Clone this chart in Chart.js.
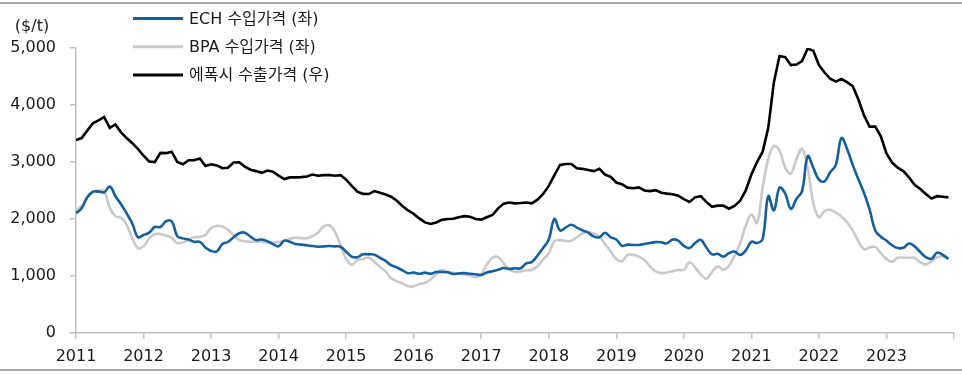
<!DOCTYPE html>
<html lang="ko">
<head>
<meta charset="utf-8">
<script src="https://cdn.jsdelivr.net/npm/chart.js@4.4.1/dist/chart.umd.min.js"></script>
<style>
  html, body { margin: 0; padding: 0; background: #fff; }
  #quadro { position: relative; width: 962px; height: 374px; }
  #quadro::before, #quadro::after {
    content: ""; position: absolute; left: 0; right: 0; height: 2px; background: #a6a6a6;
  }
  #quadro::before { top: 2px; }
  #quadro::after { top: 369px; }
  canvas { display: block; }
</style>
</head>
<body>
<div id="quadro"><canvas id="grafico" width="962" height="374"></canvas></div>
<script>
// 월별 데이터 (2011.01 ~ 2023.12), $/t
const anoInicial = 2011;
const anosEixo = [2011, 2012, 2013, 2014, 2015, 2016, 2017, 2018, 2019, 2020, 2021, 2022, 2023];

const rotulos = ["ECH 수입가격 (좌)", "BPA 수입가격 (좌)", "에폭시 수출가격 (우)"];

const ech = [
  2100, 2190, 2380, 2480, 2480, 2470, 2570, 2400, 2260, 2100, 1920, 1680,
  1720, 1760, 1860, 1860, 1960, 1960, 1700, 1660, 1640, 1600, 1600, 1500,
  1440, 1430, 1560, 1600, 1680, 1750, 1760, 1690, 1630, 1640, 1610, 1560,
  1520, 1620, 1600, 1560, 1550, 1540, 1525, 1514, 1520, 1526, 1520, 1514,
  1426, 1340, 1330, 1380, 1380, 1375, 1320, 1265, 1190, 1150, 1100, 1050,
  1060, 1040, 1060, 1040, 1070, 1070, 1065, 1035, 1045, 1050, 1040, 1030,
  1020, 1060, 1085, 1110, 1140, 1125, 1135, 1135, 1220, 1245, 1360, 1490,
  1640, 2000, 1800, 1850, 1900, 1850, 1800, 1760, 1690, 1680, 1760, 1680,
  1640, 1530, 1550, 1545, 1545, 1560, 1580, 1595, 1590, 1573, 1640, 1620,
  1530, 1490, 1580, 1635, 1500, 1380, 1390, 1340, 1400, 1430, 1370, 1450,
  1600, 1580, 1650, 2400, 2150, 2550, 2450, 2180, 2350, 2490, 3100, 2900,
  2690, 2660, 2820, 2950, 3420, 3230, 2950, 2700, 2460, 2170, 1800, 1690,
  1620, 1540, 1490, 1495, 1570, 1520, 1420, 1330, 1300, 1410, 1370, 1300
];

const bpa = [
  2150, 2230, 2380, 2470, 2500, 2480, 2200, 2050, 2020, 1900, 1660, 1490,
  1520, 1660, 1736, 1736, 1710, 1670, 1580, 1590, 1640, 1680, 1690, 1720,
  1840, 1880, 1870, 1810, 1720, 1630, 1610, 1600, 1602, 1600, 1590, 1585,
  1600, 1620, 1650, 1672, 1665, 1662, 1700, 1760, 1870, 1890, 1780, 1540,
  1300, 1200, 1280, 1300, 1320, 1250, 1160, 1080, 960, 910, 870, 820,
  820, 860, 880, 940, 1030, 1100, 1075, 1055, 1040, 1025, 1010, 980,
  1030, 1200, 1320, 1330, 1220, 1110, 1075, 1080, 1100, 1110, 1170, 1290,
  1400, 1610, 1630, 1615, 1620, 1680, 1750, 1775, 1745, 1690, 1560, 1430,
  1300, 1260, 1370, 1370, 1340, 1280, 1170, 1080, 1050, 1065, 1085, 1105,
  1110, 1240, 1150, 1030, 950, 1070, 1170, 1110, 1180, 1350, 1570, 1880,
  2080, 1930, 2550, 3050, 3280, 3200, 2900, 2800, 3050, 3230, 2900, 2280,
  2030, 2140, 2160, 2110, 2045, 1940, 1800, 1610, 1470, 1500, 1510, 1400,
  1300, 1250, 1320, 1320, 1320, 1320, 1240, 1200, 1260, 1330, 1340, 1310
];

const epoxi = [
  3385, 3420, 3550, 3680, 3730, 3790, 3600, 3660, 3520, 3420, 3330, 3230,
  3110, 3010, 3000, 3160, 3155, 3180, 3000, 2960, 3030, 3030, 3060, 2930,
  2960, 2940, 2890, 2900, 2990, 2995, 2920, 2865, 2840, 2810, 2850, 2830,
  2760, 2700, 2730, 2730, 2735, 2745, 2780, 2760, 2770, 2772, 2760, 2770,
  2690, 2580, 2480, 2440, 2438, 2490, 2460, 2430, 2390, 2320, 2230, 2150,
  2090, 2010, 1940, 1912, 1940, 1985, 2000, 2005, 2030, 2050, 2040, 2000,
  1990, 2030, 2070, 2187, 2270, 2290, 2275, 2280, 2290, 2275, 2340, 2440,
  2580, 2770, 2950, 2964, 2964, 2890, 2880, 2860, 2840, 2880, 2780, 2740,
  2640, 2610, 2550, 2540, 2555, 2500, 2490, 2505, 2460, 2445, 2435, 2410,
  2350, 2300, 2380, 2400, 2300, 2215, 2235, 2235, 2180, 2230, 2320, 2500,
  2780, 3000, 3180, 3600, 4400, 4860, 4840, 4700, 4710, 4770, 4990, 4950,
  4700, 4570, 4460, 4410, 4455, 4400, 4330, 4100, 3820, 3620, 3620, 3450,
  3150, 2990, 2900, 2840, 2730, 2600, 2525, 2440, 2360, 2400, 2390, 2380
];

const corEch = "#15609c";
const corBpa = "#c9c9c9";
const corEpoxi = "#000000";
const corTexto = "#1a1a1a";
const corEixo = "#bfbfbf";
const fonte = "'DejaVu Sans', 'Noto Sans CJK KR', sans-serif";
const tamFonte = 16;

const pontos = serie => serie.map((v, i) => ({ x: anoInicial + i / 12, y: v }));

// legenda vertical e título do eixo, desenhados à mão
const legendaVertical = {
  id: "legendaVertical",
  afterDraw(chart) {
    const ctx = chart.ctx;
    ctx.save();
    ctx.font = tamFonte + "px " + fonte;
    ctx.fillStyle = corTexto;
    ctx.textBaseline = "middle";
    ctx.textAlign = "center";
    ctx.fillText("($/t)", 32, 27);

    ctx.textAlign = "left";
    chart.data.datasets.forEach((ds, i) => {
      const y = 18.5 + i * 28.3;
      ctx.strokeStyle = ds.borderColor;
      ctx.lineWidth = 3;
      ctx.beginPath();
      ctx.moveTo(133, y);
      ctx.lineTo(183, y);
      ctx.stroke();
      ctx.fillText(ds.label, 189, y + 1);
    });
    ctx.restore();
  }
};

new Chart(document.getElementById("grafico"), {
  type: "line",
  data: {
    datasets: [
      { label: rotulos[0], data: pontos(ech), borderColor: corEch, borderWidth: 2.6, tension: 0.4 },
      { label: rotulos[1], data: pontos(bpa), borderColor: corBpa, borderWidth: 2.6, tension: 0.4 },
      { label: rotulos[2], data: pontos(epoxi), borderColor: corEpoxi, borderWidth: 2.6, tension: 0 }
    ]
  },
  options: {
    responsive: false,
    animation: false,
    events: [],
    elements: { point: { radius: 0 } },
    layout: { padding: { top: 48, right: 1, left: 0, bottom: 0 } },
    plugins: { legend: { display: false }, tooltip: { enabled: false } },
    scales: {
      x: {
        type: "linear",
        min: anosEixo[0],
        max: anosEixo[anosEixo.length - 1] + 1,
        ticks: {
          stepSize: 1,
          autoSkip: false,
          maxRotation: 0,
          padding: 8,
          color: corTexto,
          font: { family: fonte, size: tamFonte },
          callback: v => anosEixo.includes(v) ? String(v) : ""
        },
        grid: { drawOnChartArea: false, tickLength: 6, color: corEixo, lineWidth: 1.5 },
        border: { color: corEixo, width: 1.5 },
        afterFit: s => { s.height = 41; }
      },
      y: {
        min: 0,
        max: 5000,
        ticks: {
          stepSize: 1000,
          padding: 14,
          color: corTexto,
          font: { family: fonte, size: tamFonte },
          callback: v => v.toLocaleString("en-US")
        },
        grid: { drawOnChartArea: false, tickLength: 6, color: corEixo, lineWidth: 1.5 },
        border: { color: corEixo, width: 1.5 },
        afterFit: s => { s.width = 76; }
      }
    }
  },
  plugins: [legendaVertical]
});
</script>
</body>
</html>
